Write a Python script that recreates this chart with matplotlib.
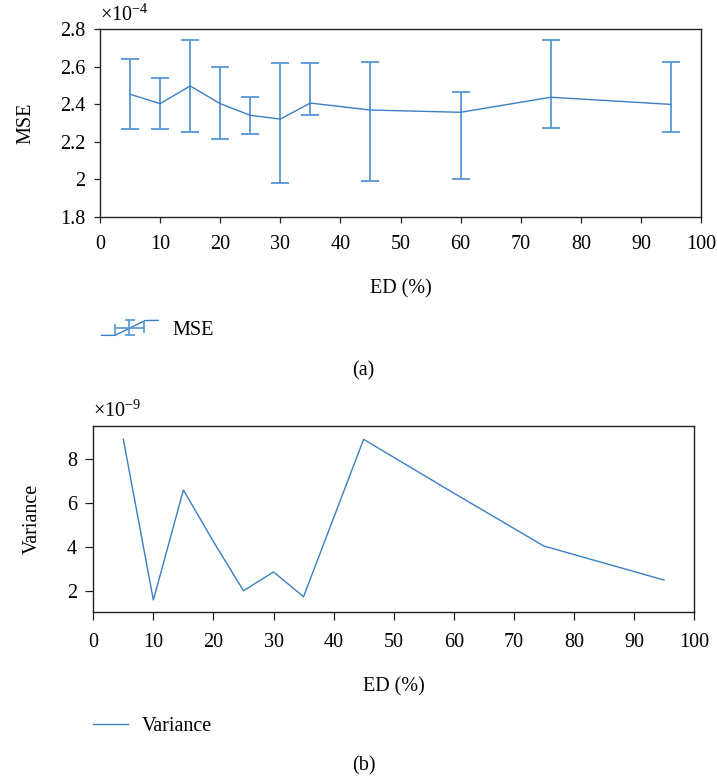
import numpy as np
import matplotlib
matplotlib.use("Agg")
import matplotlib.pyplot as plt
from matplotlib.lines import Line2D
from matplotlib.legend_handler import HandlerBase
from matplotlib.container import ErrorbarContainer
from matplotlib.ticker import FuncFormatter, MultipleLocator

plt.rcParams['font.family'] = ['Liberation Serif', 'DejaVu Serif']
plt.rcParams['mathtext.fontset'] = 'custom'
plt.rcParams['mathtext.rm'] = 'Liberation Serif'
plt.rcParams['mathtext.it'] = 'Liberation Serif:italic'

# ED levels (%)
ed = [5, 10, 15, 20, 25, 30, 35, 45, 60, 75, 95]
# MSE (x1e-4): mean, upper and lower ends of the error bars
mse_mean = [2.453, 2.403, 2.497, 2.403, 2.341, 2.321, 2.406, 2.369, 2.357, 2.437, 2.399]
mse_high = [2.642, 2.538, 2.741, 2.600, 2.440, 2.617, 2.617, 2.626, 2.467, 2.741, 2.626]
mse_low = [2.266, 2.266, 2.254, 2.213, 2.240, 1.982, 2.341, 1.993, 2.002, 2.275, 2.250]
# variance (x1e-9)
variance = [8.91, 1.59, 6.60, 4.25, 2.01, 2.87, 1.74, 8.91, 6.46, 4.05, 2.50]

LINE = '#3a7fc4'
ERR = '#5596d2'
FS = 14.5

mse_mean = np.array(mse_mean) * 1e-4
mse_high = np.array(mse_high) * 1e-4
mse_low = np.array(mse_low) * 1e-4
variance = np.array(variance) * 1e-9


class ErrIcon(HandlerBase):
    # MATLAB-like errorbar legend glyph
    def create_artists(self, legend, orig_handle, xdescent, ydescent,
                       width, height, fontsize, trans):
        x0, y0 = -xdescent, -ydescent + height / 2
        sx, sy = width / 58.0, height / 16.0

        def seg(pts, lw, c):
            return Line2D([x0 + p[0] * sx for p in pts], [y0 + p[1] * sy for p in pts],
                          color=c, lw=lw, transform=trans, solid_capstyle='butt')
        return [
            seg([(0, -7.8), (14, -7.8), (44, 7.6), (58, 7.8)], 1.0, LINE),
            seg([(14, 0), (43, 0)], 1.2, ERR),
            seg([(14, -7.8), (14, 3.8)], 1.2, ERR),
            seg([(43, -5.5), (43, 7.2)], 1.2, ERR),
            seg([(28.3, -7.8), (28.3, 7.8)], 1.2, ERR),
            seg([(23.5, 7.8), (33.5, 7.8)], 1.2, ERR),
            seg([(23.5, -7.8), (33.5, -7.8)], 1.2, ERR),
        ]


def style_axes(ax, ticklen):
    for s in ax.spines.values():
        s.set_color('#222222')
        s.set_linewidth(1.0)
    ax.tick_params(direction='out', length=ticklen, width=0.9, labelsize=FS,
                   top=False, right=False, color='#222222')
    ax.tick_params(axis='x', pad=9)
    ax.tick_params(axis='y', pad=6)


fig = plt.figure(figsize=(7.17, 7.79), dpi=100)
W, H = 717.0, 779.0

# (a) MSE with error bars
ax1 = fig.add_axes([100 / W, 1 - 217 / H, 601 / W, 188 / H])
eb = ax1.errorbar(ed, mse_mean, yerr=[mse_mean - mse_low, mse_high - mse_mean],
                  color=LINE, ecolor=ERR, lw=1.0, elinewidth=1.3, capsize=6.5,
                  capthick=1.3, label='MSE')
ax1.set_xlim(0, 100)
ax1.set_ylim(1.8e-4, 2.8e-4)
ax1.xaxis.set_major_locator(MultipleLocator(10))
ax1.yaxis.set_major_locator(MultipleLocator(0.2e-4))
ax1.yaxis.set_major_formatter(FuncFormatter(lambda v, p: f"{round(v / 1e-4, 2):g}"))
style_axes(ax1, 4.3)
ax1.set_ylabel('MSE', fontsize=FS)
ax1.yaxis.set_label_coords(-0.108, 0.5)
ax1.set_xlabel('ED (%)', fontsize=FS)
ax1.xaxis.set_label_coords(0.5, -0.33)
ax1.text(0.0, 1.075, r'$\times$10$^{-4}$', transform=ax1.transAxes, fontsize=FS,
         ha='left', va='center')
ax1.legend(handles=[eb], handler_map={ErrorbarContainer: ErrIcon()},
           loc='center left', bbox_to_anchor=(101 / W, 1 - 330 / H),
           bbox_transform=fig.transFigure, frameon=False, fontsize=FS,
           borderpad=0, borderaxespad=0, handlelength=2.88, handleheight=0.8,
           handletextpad=0.68)
fig.text(363 / W, 1 - 371 / H, '(a)', fontsize=FS, ha='center', va='center')

# (b) variance
ax2 = fig.add_axes([93.3 / W, 1 - 612.3 / H, 600.7 / W, 186.6 / H])
ax2.plot(ed, variance, color=LINE, lw=1.0, label='Variance')
ax2.set_xlim(0, 100)
ax2.set_ylim(1.03e-9, 9.53e-9)
ax2.xaxis.set_major_locator(MultipleLocator(10))
ax2.set_yticks(np.array([2, 4, 6, 8]) * 1e-9)
ax2.yaxis.set_major_formatter(FuncFormatter(lambda v, p: f"{round(v / 1e-9, 2):g}"))
style_axes(ax2, 5.7)
ax2.set_ylabel('Variance', fontsize=FS)
ax2.yaxis.set_label_coords(-0.086, 0.5)
ax2.set_xlabel('ED (%)', fontsize=FS)
ax2.xaxis.set_label_coords(0.5, -0.35)
ax2.text(0.0, 1.08, r'$\times$10$^{-9}$', transform=ax2.transAxes, fontsize=FS,
         ha='left', va='center')
ax2.legend(loc='center left', bbox_to_anchor=(92.7 / W, 1 - 726 / H),
           bbox_transform=fig.transFigure, frameon=False, fontsize=FS,
           borderpad=0, borderaxespad=0, handlelength=1.74, handletextpad=0.7)
fig.text(364 / W, 1 - 766 / H, '(b)', fontsize=FS, ha='center', va='center')

fig.savefig('out.png', dpi=100)
